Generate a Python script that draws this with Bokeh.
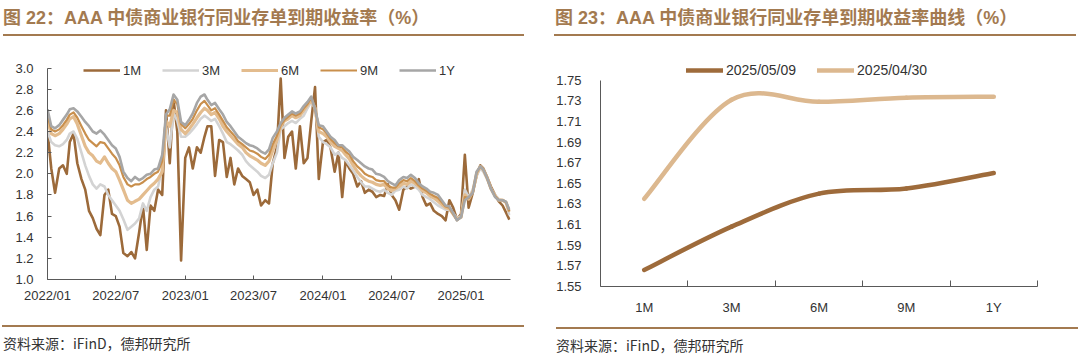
import numpy as np
import pandas as pd
from bokeh.plotting import figure
from bokeh.models import (Range1d, FixedTicker, DatetimeTickFormatter, NumeralTickFormatter,
                          Legend, LegendItem, Div)
from bokeh.layouts import row, column
from bokeh.embed import file_html
from bokeh.resources import INLINE

# ---------------- data: left chart (AAA NCD yields, %) ----------------
sample_days = [1, 11, 21]
months = pd.period_range("2022-01", "2025-04", freq="M")
dates = [pd.Timestamp(year=p.year, month=p.month, day=d) for p in months for d in sample_days]
dates += [pd.Timestamp("2025-04-30"), pd.Timestamp("2025-05-09")]

y1M = [2.40, 2.05, 1.82, 2.05, 2.08, 2.00, 2.30, 2.38, 2.10, 1.95, 1.85, 1.65,
       1.58, 1.48, 1.42, 1.80, 1.85, 1.62, 1.60, 1.50, 1.25, 1.22, 1.26, 1.20,
       1.45, 1.70, 1.28, 1.70, 1.65, 1.85, 1.80, 2.60, 2.10, 2.70, 2.40, 1.18,
       2.15, 2.25, 2.05, 2.25, 2.20, 2.35, 2.45, 2.45, 1.98, 2.32, 2.30, 1.97,
       2.15, 1.90, 2.05, 1.98, 1.95, 1.92, 1.80, 1.85, 1.70, 1.75, 1.72, 2.10,
       2.25, 2.90, 2.15, 2.35, 2.40, 2.05, 2.45, 2.10, 2.15, 2.50, 2.82, 1.95,
       2.30, 2.32, 2.25, 2.02, 2.20, 1.78, 2.12, 2.05, 2.00, 1.88, 1.93, 1.82,
       1.85, 1.83, 1.78, 1.80, 1.79, 1.90, 1.80, 1.75, 1.66, 1.85, 1.88, 1.86,
       1.88, 1.95, 1.78, 1.70, 1.72, 1.65, 1.62, 1.60, 1.56, 1.75, 1.68, 1.57,
       1.62, 2.18, 1.68, 1.82, 1.98, 2.08, 2.05, 1.97, 1.88, 1.80, 1.74, 1.70,
       1.635, 1.566]
y3M = [2.40, 2.30, 2.27, 2.26, 2.28, 2.32, 2.38, 2.40, 2.33, 2.20, 2.08, 1.98,
       1.90, 1.86, 1.90, 1.88, 1.80, 1.75, 1.70, 1.65, 1.57, 1.47, 1.50, 1.53,
       1.58, 1.72, 1.65, 1.78, 1.85, 1.88, 2.05, 2.45, 2.25, 2.58, 2.50, 2.35,
       2.35, 2.38, 2.42, 2.47, 2.52, 2.55, 2.53, 2.50, 2.52, 2.45, 2.38, 2.30,
       2.28, 2.25, 2.22, 2.18, 2.12, 2.08, 2.05, 2.02, 1.98, 1.96, 1.99, 2.10,
       2.20, 2.42, 2.45, 2.48, 2.50, 2.48, 2.52, 2.55, 2.62, 2.68, 2.62, 2.35,
       2.30, 2.28, 2.25, 2.18, 2.20, 2.15, 2.13, 2.08, 2.03, 1.97, 1.92, 1.88,
       1.88, 1.86, 1.84, 1.83, 1.85, 1.82, 1.80, 1.84, 1.85, 1.88, 1.86, 1.90,
       1.88, 1.85, 1.80, 1.78, 1.76, 1.73, 1.70, 1.68, 1.66, 1.66, 1.63, 1.58,
       1.60, 1.85, 1.78, 1.85, 1.98, 2.05, 2.02, 1.95, 1.86, 1.80, 1.76, 1.75,
       1.73, 1.608]
y6M = [2.50, 2.38, 2.36, 2.38, 2.42, 2.47, 2.52, 2.54, 2.47, 2.36, 2.26, 2.20,
       2.17, 2.12, 2.10, 2.16, 2.10, 2.05, 2.02, 1.94, 1.85, 1.75, 1.72, 1.74,
       1.76, 1.80, 1.84, 1.88, 1.91, 1.95, 2.02, 2.50, 2.45, 2.60, 2.58, 2.42,
       2.38, 2.42, 2.47, 2.53, 2.58, 2.62, 2.60, 2.56, 2.58, 2.52, 2.45, 2.40,
       2.36, 2.32, 2.28, 2.25, 2.20, 2.17, 2.15, 2.13, 2.10, 2.08, 2.12, 2.22,
       2.32, 2.45, 2.50, 2.52, 2.55, 2.53, 2.55, 2.60, 2.65, 2.70, 2.62, 2.40,
       2.38, 2.35, 2.30, 2.26, 2.24, 2.22, 2.18, 2.14, 2.08, 2.02, 1.98, 1.95,
       1.93, 1.92, 1.90, 1.89, 1.90, 1.86, 1.84, 1.86, 1.88, 1.91, 1.90, 1.93,
       1.91, 1.88, 1.84, 1.82, 1.79, 1.77, 1.74, 1.71, 1.68, 1.67, 1.62, 1.57,
       1.59, 1.80, 1.76, 1.83, 2.00, 2.07, 2.04, 1.96, 1.86, 1.79, 1.75, 1.75,
       1.73, 1.64]
y9M = [2.55, 2.42, 2.40, 2.42, 2.46, 2.51, 2.56, 2.58, 2.53, 2.45, 2.38, 2.32,
       2.29, 2.26, 2.30, 2.29, 2.24, 2.19, 2.15, 2.08, 1.97, 1.90, 1.88, 1.90,
       1.90, 1.92, 1.95, 1.97, 2.00, 2.02, 2.12, 2.55, 2.55, 2.70, 2.66, 2.47,
       2.43, 2.47, 2.52, 2.60, 2.66, 2.69, 2.65, 2.60, 2.62, 2.56, 2.50, 2.44,
       2.40, 2.36, 2.31, 2.28, 2.25, 2.22, 2.21, 2.19, 2.16, 2.14, 2.18, 2.28,
       2.36, 2.46, 2.51, 2.54, 2.57, 2.55, 2.57, 2.62, 2.66, 2.72, 2.62, 2.44,
       2.42, 2.38, 2.33, 2.29, 2.26, 2.25, 2.21, 2.18, 2.12, 2.07, 2.04, 2.00,
       1.98, 1.97, 1.94, 1.93, 1.93, 1.89, 1.87, 1.87, 1.91, 1.94, 1.93, 1.96,
       1.93, 1.89, 1.86, 1.84, 1.81, 1.79, 1.77, 1.73, 1.69, 1.68, 1.62, 1.56,
       1.59, 1.78, 1.77, 1.82, 2.01, 2.07, 2.04, 1.96, 1.86, 1.79, 1.75, 1.75,
       1.734, 1.645]
y1Y = [2.61, 2.45, 2.43, 2.46, 2.51, 2.56, 2.61, 2.62, 2.59, 2.54, 2.49, 2.45,
       2.40, 2.38, 2.41, 2.37, 2.32, 2.27, 2.24, 2.16, 2.02, 1.96, 1.93, 1.97,
       1.94, 1.96, 1.99, 2.00, 2.04, 2.05, 2.18, 2.56, 2.61, 2.75, 2.70, 2.49,
       2.46, 2.51, 2.57, 2.67, 2.73, 2.75, 2.70, 2.65, 2.67, 2.61, 2.56, 2.49,
       2.45, 2.40, 2.35, 2.32, 2.29, 2.27, 2.26, 2.24, 2.21, 2.19, 2.23, 2.34,
       2.40, 2.48, 2.53, 2.56, 2.59, 2.57, 2.59, 2.64, 2.68, 2.73, 2.61, 2.46,
       2.45, 2.40, 2.35, 2.32, 2.27, 2.27, 2.24, 2.21, 2.16, 2.13, 2.10, 2.07,
       2.05, 2.04, 2.00, 1.99, 1.97, 1.93, 1.91, 1.89, 1.94, 1.97, 1.96, 1.99,
       1.96, 1.91, 1.88, 1.86, 1.83, 1.82, 1.80, 1.75, 1.70, 1.69, 1.63, 1.56,
       1.59, 1.75, 1.78, 1.82, 2.02, 2.07, 2.04, 1.96, 1.86, 1.78, 1.75, 1.75,
       1.735, 1.66]

series_names = ["1M", "3M", "6M", "9M", "1Y"]
series_values = [y1M, y3M, y6M, y9M, y1Y]
series_colors = ["#9c6a3a", "#d3d3d3", "#e3bc8e", "#c98f4c", "#a6a6a6"]
series_widths = [2.6, 2.6, 3.2, 2.2, 2.6]

tick_dates = ["2022-01-01", "2022-07-01", "2023-01-01", "2023-07-01",
              "2024-01-01", "2024-07-01", "2025-01-01"]
left_yticks = [1.0, 1.2, 1.4, 1.6, 1.8, 2.0, 2.2, 2.4, 2.6, 2.8, 3.0]

# ---------------- data: right chart (yield curve, %) ----------------
tenors = ["1M", "3M", "6M", "9M", "1Y"]
curve_0509 = [1.566, 1.608, 1.640, 1.645, 1.660]
curve_0430 = [1.635, 1.731, 1.729, 1.733, 1.734]
curve_labels = ["2025/05/09", "2025/04/30"]
curve_colors = ["#9e6b3b", "#dcb88f"]
right_yticks = [1.55, 1.57, 1.59, 1.61, 1.63, 1.65, 1.67, 1.69, 1.71, 1.73, 1.75]

TXT = "#333333"
AXC = "#595959"
LAT = "Liberation Sans"
BROWN = "#a37a50"

# ---------------- left figure ----------------
xs = [d.value // 10**6 for d in dates]
x_start = pd.Timestamp("2022-01-01").value // 10**6
x_end = pd.Timestamp("2025-05-12").value // 10**6

p1 = figure(x_axis_type="datetime", frame_width=463, frame_height=222,
            min_border_left=47, min_border_right=30, min_border_top=12, min_border_bottom=36,
            x_range=Range1d(x_start, x_end), y_range=Range1d(1.0, 3.1),
            output_backend="svg", toolbar_location=None, background_fill_color="white",
            border_fill_color="white", outline_line_color=None)
p1.grid.visible = False

items = []
for name, vals, col, w in zip(series_names, series_values, series_colors, series_widths):
    r = p1.line(xs, vals, line_color=col, line_width=w, line_join="round")
    items.append(LegendItem(label=name, renderers=[r]))

leg1 = Legend(items=items, orientation="horizontal", location=(36, 201),
              glyph_width=37, glyph_height=16, label_height=16, label_standoff=3, spacing=19,
              padding=0, margin=0, border_line_color=None, background_fill_alpha=0,
              label_text_font=LAT, label_text_font_size="13px", label_text_color=TXT)
p1.add_layout(leg1)

p1.xaxis.ticker = FixedTicker(ticks=[pd.Timestamp(t).value // 10**6 for t in tick_dates])
p1.xaxis.formatter = DatetimeTickFormatter(days="%Y/%m", months="%Y/%m", years="%Y/%m")
p1.yaxis.ticker = FixedTicker(ticks=left_yticks)
p1.yaxis.formatter = NumeralTickFormatter(format="0.0")
p1.yaxis.bounds = (left_yticks[0], left_yticks[-1])
for ax in (p1.xaxis, p1.yaxis):
    ax.axis_line_color = AXC
    ax.major_tick_line_color = AXC
    ax.major_tick_in = 4
    ax.major_tick_out = 0
    ax.minor_tick_line_color = None
    ax.major_label_text_font = LAT
    ax.major_label_text_font_size = "13px"
    ax.major_label_text_color = TXT
p1.xaxis.major_label_standoff = 8
p1.yaxis.major_label_standoff = 14

# ---------------- right figure ----------------
def smooth_segments(xv, yv):
    n = len(xv)
    P = list(zip(xv, yv))
    out = {k: [] for k in ("x0", "y0", "x1", "y1", "cx0", "cy0", "cx1", "cy1")}
    for i in range(n - 1):
        pm = P[i - 1] if i > 0 else P[i]
        p0, p1_ = P[i], P[i + 1]
        p2 = P[i + 2] if i + 2 < n else P[i + 1]
        out["x0"].append(p0[0]); out["y0"].append(p0[1])
        out["x1"].append(p1_[0]); out["y1"].append(p1_[1])
        out["cx0"].append(p0[0] + (p1_[0] - pm[0]) / 6); out["cy0"].append(p0[1] + (p1_[1] - pm[1]) / 6)
        out["cx1"].append(p1_[0] - (p2[0] - p0[0]) / 6); out["cy1"].append(p1_[1] - (p2[1] - p0[1]) / 6)
    return out

cx = [i + 0.5 for i in range(len(tenors))]

p2 = figure(frame_width=437, frame_height=229,
            min_border_left=60, min_border_right=43, min_border_top=12, min_border_bottom=29,
            x_range=Range1d(0, len(tenors)), y_range=Range1d(1.55, 1.772),
            output_backend="svg", toolbar_location=None, background_fill_color="white",
            border_fill_color="white", outline_line_color=None)
p2.grid.visible = False

items2 = []
for lab, vals, col in zip(curve_labels, [curve_0509, curve_0430], curve_colors):
    seg = smooth_segments(cx, vals)
    r = p2.bezier(x0=seg["x0"], y0=seg["y0"], x1=seg["x1"], y1=seg["y1"],
                  cx0=seg["cx0"], cy0=seg["cy0"], cx1=seg["cx1"], cy1=seg["cy1"],
                  line_color=col, line_width=4.5, line_cap="round")
    items2.append(LegendItem(label=lab, renderers=[r]))

leg2 = Legend(items=items2, orientation="horizontal", location=(86, 208),
              glyph_width=37, glyph_height=16, label_height=16, label_standoff=3, spacing=21,
              padding=0, margin=0, border_line_color=None, background_fill_alpha=0,
              label_text_font=LAT, label_text_font_size="14px", label_text_color=TXT)
p2.add_layout(leg2)

p2.xaxis.ticker = FixedTicker(ticks=cx, minor_ticks=[float(i) for i in range(len(tenors) + 1)])
p2.xaxis.major_label_overrides = {c: t for c, t in zip(cx, tenors)}
p2.xaxis.major_tick_line_color = None
p2.xaxis.minor_tick_line_color = AXC
p2.xaxis.minor_tick_in = 6
p2.xaxis.minor_tick_out = 0
p2.xaxis.major_label_standoff = 7
p2.yaxis.ticker = FixedTicker(ticks=right_yticks)
p2.yaxis.formatter = NumeralTickFormatter(format="0.00")
p2.yaxis.bounds = (right_yticks[0], right_yticks[-1])
p2.yaxis.major_tick_line_color = None
p2.yaxis.minor_tick_line_color = None
p2.yaxis.major_label_standoff = 13
for ax in (p2.xaxis, p2.yaxis):
    ax.axis_line_color = AXC
    ax.major_label_text_font = LAT
    ax.major_label_text_font_size = "13px"
    ax.major_label_text_color = TXT

# ---------------- titles / sources ----------------
TITLE_FONT = "'Liberation Sans','Noto Sans CJK SC',sans-serif"
SRC_FONT = "'Noto Sans CJK SC','Liberation Sans',sans-serif"

def title_div(text, width, offset, rule_left, rule_len):
    html = (f'<div style="position:relative;width:{width}px;height:45px;">'
            f'<div style="position:absolute;left:{offset}px;top:8px;white-space:nowrap;'
            f'font-family:{TITLE_FONT};font-weight:bold;font-size:18px;line-height:20px;color:{BROWN};">{text}</div>'
            f'<div style="position:absolute;left:{rule_left}px;top:34px;width:{rule_len}px;height:2px;'
            f'background-color:{BROWN};"></div></div>')
    return Div(text=html, width=width, height=45, margin=0)

def source_div(text, width, offset, rule_left, rule_len):
    html = (f'<div style="position:relative;width:{width}px;height:44px;">'
            f'<div style="position:absolute;left:{rule_left}px;top:10px;width:{rule_len}px;height:2px;'
            f'background-color:{BROWN};"></div>'
            f'<div style="position:absolute;left:{offset}px;top:19px;white-space:nowrap;'
            f'font-family:{SRC_FONT};font-size:14px;line-height:18px;color:{TXT};">{text}</div></div>')
    return Div(text=html, width=width, height=44, margin=0)

t1 = title_div("图 22：AAA 中债商业银行同业存单到期收益率（%）", 540, 3, 3, 521)
t2 = title_div("图 23：AAA 中债商业银行同业存单到期收益率曲线（%）", 540, 15, 14, 522)
s1 = source_div("资料来源：iFinD，德邦研究所", 540, 3, 2, 522)
s2 = source_div("资料来源：iFinD，德邦研究所", 540, 16, 16, 522)

left = column(t1, p1, s1, spacing=0)
right = column(t2, p2, s2, spacing=0)
page = row(left, right, spacing=0)

open("out.html", "w").write(file_html(page, INLINE))
